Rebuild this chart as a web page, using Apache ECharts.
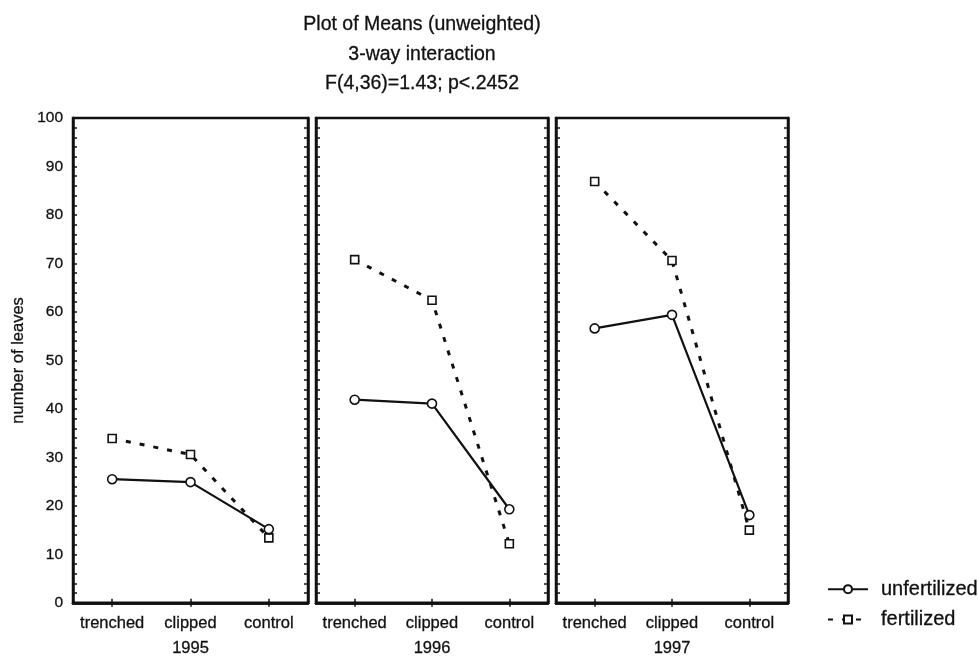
<!DOCTYPE html>
<html>
<head>
<meta charset="utf-8">
<script src="https://cdn.jsdelivr.net/npm/echarts@6/dist/echarts.min.js"></script>
<style>
  html, body { margin: 0; padding: 0; background: #fff; }
  #chart { width: 978px; height: 662px; }
</style>
</head>
<body>
<div id="chart"></div>
<script>
// Treatments on each panel's x axis, one panel per year
const treatments = ['trenched', 'clipped', 'control'];
const years = ['1995', '1996', '1997'];

// Mean number of leaves per treatment, one array per year
const unfertilized1995 = [25.5, 24.9, 15.2];
const fertilized1995   = [33.9, 30.6, 13.4];
const unfertilized1996 = [41.9, 41.1, 19.3];
const fertilized1996   = [70.8, 62.4, 12.2];
const unfertilized1997 = [56.6, 59.4, 18.1];
const fertilized1997   = [86.9, 70.6, 15.0];

const unfertilized = [unfertilized1995, unfertilized1996, unfertilized1997];
const fertilized = [fertilized1995, fertilized1996, fertilized1997];

// Value axis range and tick step
const yMin = 0, yMax = 100, yStep = 10;

const INK = '#111';
const FONT = 'Liberation Sans, Arial, Helvetica, sans-serif';
// a hairline stroke around glyphs gives the heavier print look
const heavy = { textBorderColor: INK, textBorderWidth: 0.3 };

const panels = [
  { left: 73, width: 235 },
  { left: 316, width: 232 },
  { left: 556, width: 232 }
];
const gridTop = 118, gridHeight = 488;

const grids = [], xAxes = [], yAxes = [], series = [];

panels.forEach((p, i) => {
  grids.push({
    left: p.left, top: gridTop, width: p.width, height: gridHeight,
    show: true, borderColor: INK, borderWidth: 2.5, backgroundColor: 'transparent'
  });
  // bottom category axis with labels and year name
  xAxes.push({
    type: 'category', gridIndex: i, position: 'bottom', data: treatments,
    axisLine: { show: true, lineStyle: { color: INK, width: 2.5 } },
    axisTick: { show: true, inside: true, alignWithLabel: true, length: 4, lineStyle: { color: INK, width: 1.5 } },
    axisLabel: Object.assign({ interval: 0, color: INK, fontFamily: FONT, fontSize: 16.5, margin: 12 }, heavy),
    name: years[i], nameLocation: 'middle', nameGap: 37,
    nameTextStyle: Object.assign({ color: INK, fontFamily: FONT, fontSize: 16.5 }, heavy)
  });
  // top category axis: inward ticks only
  xAxes.push({
    type: 'category', gridIndex: i, position: 'top', data: treatments,
    axisLine: { show: true, lineStyle: { color: INK, width: 2.5 } },
    axisTick: { show: true, inside: true, alignWithLabel: true, length: 4, lineStyle: { color: INK, width: 1.5 } },
    axisLabel: { show: false }
  });
  const tickCommon = {
    axisTick: { show: true, inside: true, length: 4, lineStyle: { color: INK, width: 1.5 } },
    minorTick: { show: true, splitNumber: 5, length: 4, lineStyle: { color: INK, width: 1.5 } },
    splitLine: { show: false },
    axisLine: { show: true, lineStyle: { color: INK, width: 2.5 } }
  };
  yAxes.push(Object.assign({
    type: 'value', gridIndex: i, position: 'left', min: yMin, max: yMax, interval: yStep,
    axisLabel: Object.assign({ show: i === 0, color: INK, fontFamily: FONT, fontSize: 15.5, margin: 10 }, heavy),
    name: i === 0 ? 'number of leaves' : '', nameLocation: 'middle', nameGap: 46,
    nameTextStyle: Object.assign({ color: INK, fontFamily: FONT, fontSize: 16.5 }, heavy)
  }, tickCommon));
  yAxes.push(Object.assign({
    type: 'value', gridIndex: i, position: 'right', min: yMin, max: yMax, interval: yStep,
    axisLabel: { show: false }
  }, tickCommon));

  series.push({
    name: 'fertilized', type: 'line', xAxisIndex: 2 * i, yAxisIndex: 2 * i,
    data: fertilized[i], symbol: 'rect', symbolSize: 8,
    lineStyle: { color: INK, width: 3, type: [5, 9], cap: 'butt' },
    itemStyle: { color: '#fff', borderColor: INK, borderWidth: 1.6 },
    z: 3, animation: false
  });
  series.push({
    name: 'unfertilized', type: 'line', xAxisIndex: 2 * i, yAxisIndex: 2 * i,
    data: unfertilized[i], symbol: 'circle', symbolSize: 9,
    lineStyle: { color: INK, width: 2.2 },
    itemStyle: { color: '#fff', borderColor: INK, borderWidth: 1.6 },
    z: 4, animation: false
  });
});

const chart = echarts.init(document.getElementById('chart'), null, { renderer: 'canvas' });
chart.setOption({
  backgroundColor: '#fff',
  animation: false,
  title: {
    text: 'Plot of Means (unweighted)\n3-way interaction\nF(4,36)=1.43; p<.2452',
    left: 417, top: 5, textAlign: 'center',
    textStyle: Object.assign({ color: INK, fontFamily: FONT, fontSize: 19.5, fontWeight: 'normal', lineHeight: 29.5 }, heavy)
  },
  legend: {
    orient: 'vertical', left: 822, top: 574,
    data: ['unfertilized', 'fertilized'],
    itemWidth: 40, itemHeight: 10, itemGap: 10,
    textStyle: Object.assign({ color: INK, fontFamily: FONT, fontSize: 20, padding: [0, 0, 0, 8] }, heavy),
    selectedMode: false
  },
  grid: grids,
  xAxis: xAxes,
  yAxis: yAxes,
  series: series
});
</script>
</body>
</html>
